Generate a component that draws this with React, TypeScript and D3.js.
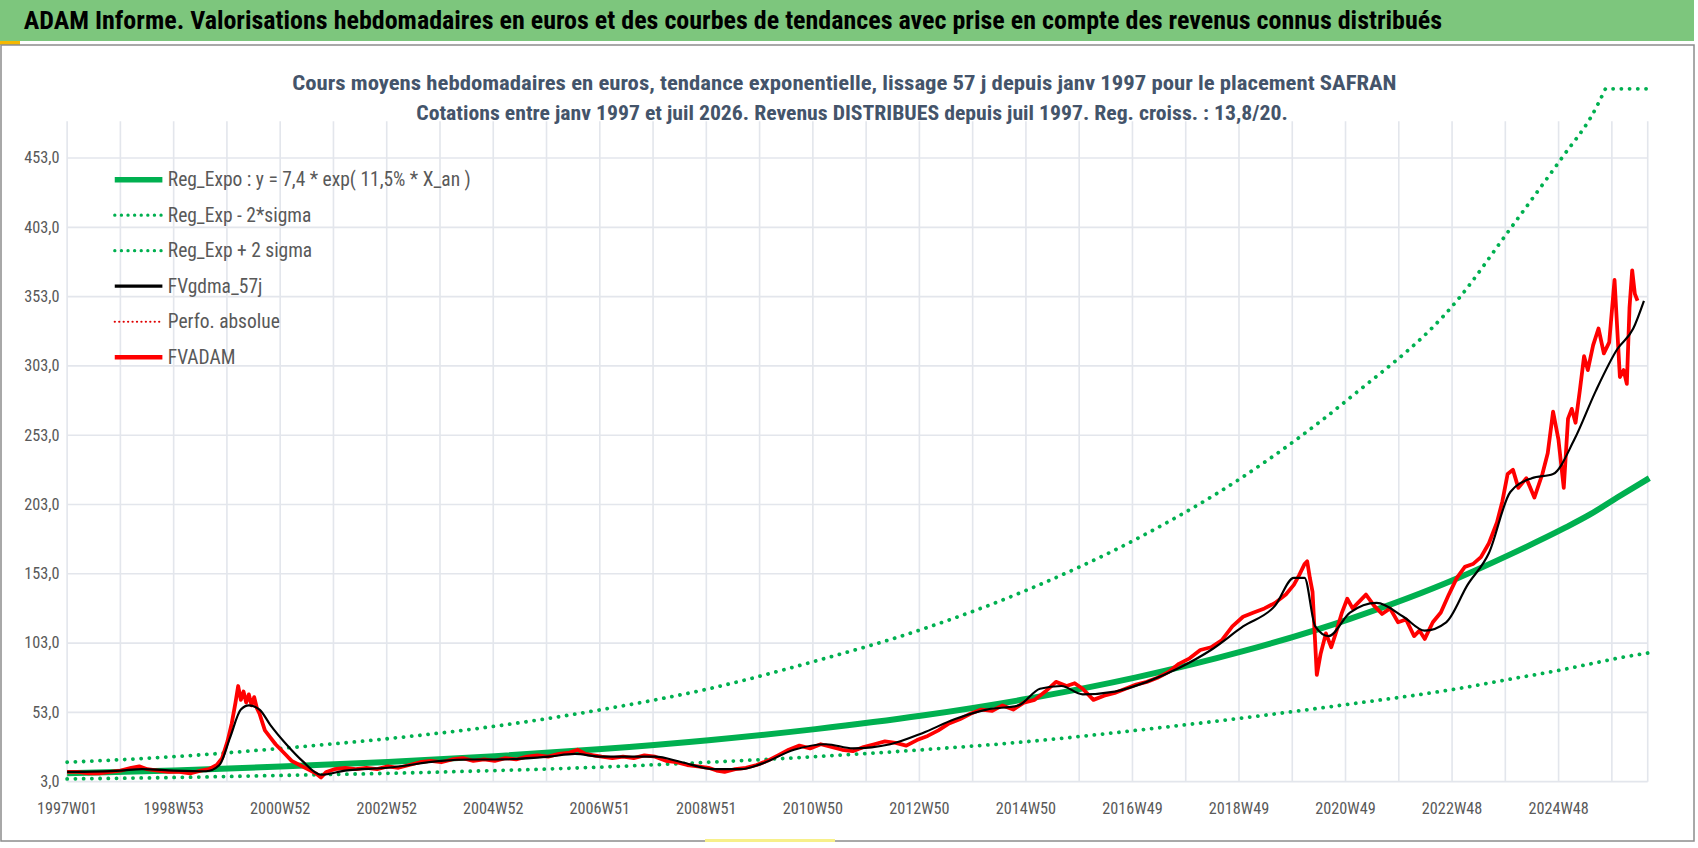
import React from "react";
import * as d3 from "d3";

const W = 1698, H = 848;
const K = 1.0826;
const TITLE = "ADAM Informe. Valorisations hebdomadaires en euros et des courbes de tendances avec prise en compte des revenus connus distribués";
const SUB1 = "Cours moyens hebdomadaires en euros, tendance exponentielle, lissage 57 j depuis janv 1997 pour le placement SAFRAN";
const SUB2 = "Cotations entre janv 1997 et juil 2026. Revenus DISTRIBUES depuis juil 1997. Reg. croiss. : 13,8/20.";

const xLabels = ["1997W01","1998W53","2000W52","2002W52","2004W52","2006W51","2008W51","2010W50","2012W50","2014W50","2016W49","2018W49","2020W49","2022W48","2024W48"];
const yTicks = [3, 53, 103, 153, 203, 253, 303, 353, 403, 453];

const bandYears = [1997,1999,2001,2003,2005,2007,2009,2011,2013,2015,2017,2019,2021,2023,2024,2025,2025.5,2026,2026.6];
const trendVals = [9.0,11.1,13.9,17.2,21.4,26.5,32.9,40.9,50.7,63.0,78.2,97.1,120.5,149.6,167,185.7,196,208,222];
const upperVals = [17,21,27,34,43,55,70,90,113,142,178,223,280,350,402,455,482,520,560];
const lowerVals = [5,6,7.5,9,11,13.5,17,21,26,32,40,49,59,70,77,84,88,92,96];

const adamYears = [1997,1997.2,1997.4,1997.6,1997.8,1998,1998.2,1998.35,1998.5,1998.7,1998.9,1999.1,1999.3,1999.5,1999.65,1999.8,1999.9,2000,2000.08,2000.15,2000.2,2000.25,2000.3,2000.35,2000.4,2000.45,2000.5,2000.55,2000.6,2000.65,2000.7,2000.8,2000.9,2001,2001.1,2001.2,2001.35,2001.5,2001.65,2001.75,2001.85,2002,2002.2,2002.4,2002.6,2002.8,2003,2003.2,2003.4,2003.6,2003.8,2004,2004.2,2004.4,2004.6,2004.8,2005,2005.2,2005.4,2005.6,2005.8,2006,2006.2,2006.4,2006.55,2006.7,2006.85,2007,2007.2,2007.4,2007.6,2007.8,2008,2008.2,2008.4,2008.6,2008.8,2009,2009.15,2009.3,2009.5,2009.7,2009.9,2010.1,2010.3,2010.5,2010.7,2010.9,2011.1,2011.3,2011.5,2011.7,2011.9,2012.1,2012.3,2012.5,2012.7,2012.9,2013.1,2013.3,2013.5,2013.7,2013.9,2014.1,2014.3,2014.5,2014.7,2014.9,2015.1,2015.3,2015.5,2015.7,2015.85,2016,2016.2,2016.4,2016.6,2016.8,2017,2017.2,2017.4,2017.6,2017.8,2018,2018.2,2018.4,2018.6,2018.8,2019,2019.2,2019.4,2019.6,2019.8,2019.95,2020.05,2020.15,2020.2,2020.25,2020.3,2020.38,2020.45,2020.55,2020.65,2020.75,2020.85,2020.95,2021.05,2021.15,2021.3,2021.45,2021.6,2021.75,2021.9,2022.05,2022.2,2022.3,2022.4,2022.55,2022.7,2022.85,2023,2023.15,2023.3,2023.45,2023.6,2023.75,2023.85,2023.95,2024.05,2024.15,2024.3,2024.45,2024.6,2024.7,2024.8,2024.9,2025,2025.08,2025.15,2025.22,2025.3,2025.38,2025.45,2025.55,2025.65,2025.75,2025.85,2025.95,2026.05,2026.12,2026.18,2026.23,2026.28,2026.33,2026.38,2026.43,2026.47,2026.5];
const adamVals = [10,10,9,9,10,11,13,14,12,11,10,10,9,11,12,15,20,32,45,60,72,62,68,60,66,58,64,56,52,46,40,35,30,26,22,18,15,12,9,6,10,12,13,12,13,12,14,13,15,17,18,17,19,20,18,19,18,20,19,21,22,21,23,24,26,23,22,21,20,21,20,22,21,18,17,15,14,13,11,10,12,13,15,18,22,26,29,27,30,28,26,25,28,30,32,31,29,33,36,40,45,48,52,55,54,58,55,60,62,68,75,72,74,70,62,65,67,70,73,75,78,82,88,92,98,100,105,115,122,125,128,132,138,145,152,160,162,150,140,80,95,110,100,112,125,135,128,132,138,130,124,128,118,120,108,112,106,118,125,138,150,158,160,165,175,190,205,225,228,215,222,208,225,240,270,250,215,265,272,262,285,310,300,318,330,312,320,365,295,300,290,345,372,355,350];

const fvYears = [1997,1998,1998.4,1999,1999.6,1999.85,2000.05,2000.25,2000.4,2000.6,2000.8,2001.1,2001.4,2001.75,2002.2,2003,2004,2004.5,2005,2006,2006.5,2007,2008,2008.5,2009.1,2009.6,2010,2010.6,2011.2,2011.7,2012.4,2013,2013.6,2014.2,2014.8,2015.2,2015.6,2016,2016.6,2017.2,2017.8,2018.4,2019,2019.6,2019.95,2020.15,2020.35,2020.6,2021,2021.5,2022,2022.4,2022.8,2023.2,2023.6,2024,2024.4,2024.8,2025.2,2025.6,2026,2026.3,2026.5];
const fvVals = [10,11,12,11,10.5,15,35,55,58,55,44,30,18,8,11,13,18,19,19,21,23,21,21,17,12,12,16,26,30,27,30,38,48,55,58,70,72,66,68,75,85,98,115,130,150,150,115,108,125,132,122,112,118,145,168,212,222,225,250,285,315,330,350];

const X0 = 62, X1 = 1522, YB = 722, YT = 82;
const WEEKS = 1543;
const wk = (yr: number) => (yr - 1997) * 52.18;
const x = d3.scaleLinear().domain([0, WEEKS]).range([X0, X1]);
const y = d3.scaleLinear().domain([3, 503]).range([YB, YT]);

function path(years: number[], vals: number[], curve: d3.CurveFactory = d3.curveMonotoneX) {
  const pts = years.map((yr, i) => [wk(yr), vals[i]] as [number, number]);
  return d3.line<[number, number]>().x(d => x(d[0])).y(d => y(d[1])).curve(curve)(pts) || "";
}

const FONT = "'Liberation Sans Narrow', 'Roboto Condensed', 'Liberation Sans', sans-serif";
const GREEN = "#00b050";

export default function App() {
  const legend = [
    { t: "Reg_Expo : y = 7,4 * exp( 11,5% *  X_an )", c: GREEN, w: 5, dash: "" },
    { t: "Reg_Exp - 2*sigma", c: GREEN, w: 3, dash: "0.1 6" },
    { t: "Reg_Exp + 2 sigma", c: GREEN, w: 3, dash: "0.1 6" },
    { t: "FVgdma_57j", c: "#000", w: 3, dash: "" },
    { t: "Perfo. absolue", c: "#e00000", w: 2, dash: "0.1 4" },
    { t: "FVADAM", c: "#ff0000", w: 4, dash: "" },
  ];
  const vGrid = d3.range(0, WEEKS, 52);
  return (
    <svg width={W} height={H} style={{ position: "absolute", left: 0, top: 0, background: "#fff" }} fontFamily={FONT}>
      <rect x={0} y={0} width={W} height={H} fill="#fff" />
      <rect x={0} y={0} width={1694} height={41} fill="#7dc67d" />
      <rect x={0} y={41} width={20} height={4} fill="#f5b800" />
      <rect x={1} y={45} width={1693} height={796} fill="none" stroke="#8c8c8c" strokeWidth={1.5} />
      <rect x={705} y={839} width={130} height={3} fill="#f7f08a" />
      <g transform={`scale(${K})`}>
        <defs>
          <clipPath id="plotclip"><rect x={X0 - 5} y={YT - 2} width={X1 - X0 + 10} height={YB - YT + 10} /></clipPath>
        </defs>
        <text x={22} y={27} fontSize={23} fontWeight="bold" fill="#000" textLength={1310} lengthAdjust="spacingAndGlyphs">{TITLE}</text>
        {yTicks.map(t => (
          <g key={t}>
            <line x1={X0} x2={X1} y1={y(t)} y2={y(t)} stroke="#e3e6ec" strokeWidth={1.5} />
            <text x={55} y={y(t) + 5} fontSize={15} fill="#595959" textAnchor="end">{t.toFixed(1).replace(".", ",")}</text>
          </g>
        ))}
        {vGrid.map(g => (
          <line key={g} x1={x(g)} x2={x(g)} y1={112} y2={YB} stroke="#e3e6ec" strokeWidth={1.5} />
        ))}
        <line x1={X1} x2={X1} y1={112} y2={YB} stroke="#e3e6ec" strokeWidth={1.5} />
        {xLabels.map((l, i) => (
          <text key={l} x={x(i * 104)} y={752} fontSize={15} fill="#595959" textAnchor="middle">{l}</text>
        ))}
        <text x={780} y={83} fontSize={18} fontWeight="bold" fill="#44546a" textAnchor="middle" textLength={1020} lengthAdjust="spacingAndGlyphs">{SUB1}</text>
        <text x={787} y={111} fontSize={18} fontWeight="bold" fill="#44546a" textAnchor="middle" textLength={805} lengthAdjust="spacingAndGlyphs">{SUB2}</text>
        <g clipPath="url(#plotclip)">
          <path d={path(bandYears, upperVals)} fill="none" stroke={GREEN} strokeWidth={3.5} strokeDasharray="0.1 7.5" strokeLinecap="round" />
          <path d={path(bandYears, lowerVals)} fill="none" stroke={GREEN} strokeWidth={3.5} strokeDasharray="0.1 7.5" strokeLinecap="round" />
          <path d={path(bandYears, trendVals)} fill="none" stroke={GREEN} strokeWidth={5.5} />
          <path d={path(adamYears, adamVals, d3.curveLinear)} fill="none" stroke="#ff0000" strokeWidth={3.5} strokeLinejoin="round" />
          <path d={path(fvYears, fvVals)} fill="none" stroke="#000" strokeWidth={2} />
        </g>
        <line x1={X1 - 32} x2={X1} y1={YT} y2={YT} stroke={GREEN} strokeWidth={3.5} strokeDasharray="0.1 7.5" strokeLinecap="round" />
        {legend.map((l, i) => {
          const ly = 166 + i * 32.8;
          return (
            <g key={l.t}>
              <line x1={106} x2={150} y1={ly} y2={ly} stroke={l.c} strokeWidth={l.w} strokeDasharray={l.dash} strokeLinecap={l.dash ? "round" : "butt"} />
              <text x={155} y={ly + 6} fontSize={18} fill="#595959">{l.t}</text>
            </g>
          );
        })}
      </g>
    </svg>
  );
}
